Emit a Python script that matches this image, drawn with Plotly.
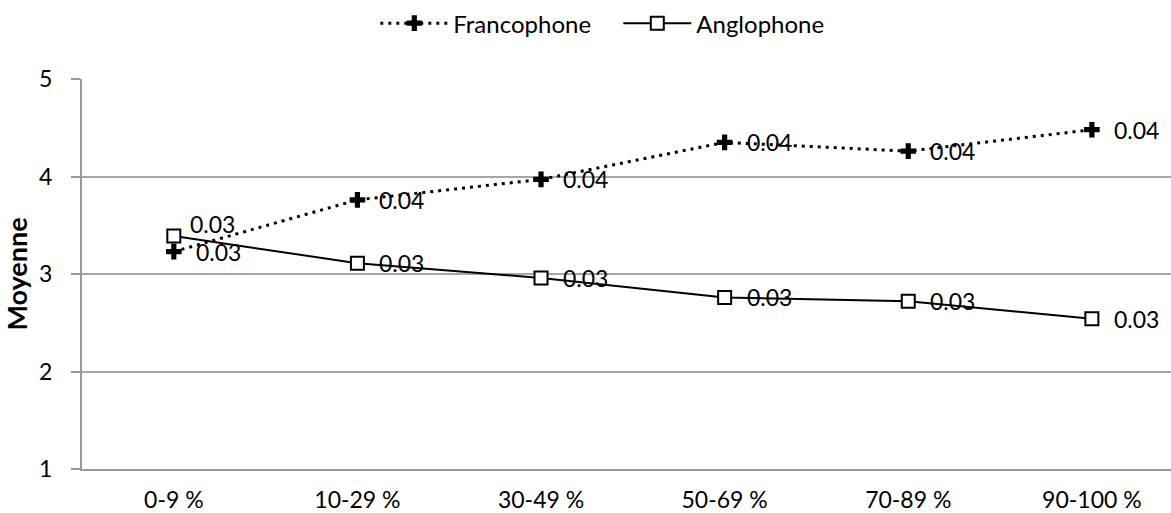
import plotly.graph_objects as go

# Tranches de pourcentage (axe des catégories)
categories = ["0-9 %", "10-29 %", "30-49 %", "50-69 %", "70-89 %", "90-100 %"]

# Moyennes par groupe linguistique
francophone = [3.23, 3.76, 3.97, 4.35, 4.26, 4.48]
anglophone = [3.39, 3.11, 2.96, 2.76, 2.72, 2.54]

# Erreurs-types affichées à côté de chaque point
francophone_se = ["0.03", "0.04", "0.04", "0.04", "0.04", "0.04"]
anglophone_se = ["0.03", "0.03", "0.03", "0.03", "0.03", "0.03"]

y_ticks = [1, 2, 3, 4, 5]

FONT = "Lato, 'Open Sans', sans-serif"
LABEL_SIZE = 23
x_pos = list(range(len(categories)))

fig = go.Figure()

fig.add_trace(go.Scatter(
    x=x_pos, y=francophone, name="Francophone",
    mode="lines+markers",
    line=dict(color="black", width=3, dash="3px,5px"),
    marker=dict(symbol="cross", size=13, color="black"),
    cliponaxis=False,
))

fig.add_trace(go.Scatter(
    x=x_pos, y=anglophone, name="Anglophone",
    mode="lines+markers",
    line=dict(color="black", width=2),
    marker=dict(symbol="square", size=13, color="white",
                line=dict(color="black", width=2)),
    cliponaxis=False,
))

# Étiquettes d'erreur-type à droite de chaque point
annotations = []
for i, (v, t) in enumerate(zip(francophone, francophone_se)):
    annotations.append(dict(x=i, y=v, text=t, showarrow=False,
                            xanchor="left", yanchor="middle", xshift=20))
for i, (v, t) in enumerate(zip(anglophone, anglophone_se)):
    if i == 0:
        annotations.append(dict(x=i, y=v, text=t, showarrow=False,
                                xanchor="left", yanchor="middle",
                                xshift=14, yshift=12))
    else:
        annotations.append(dict(x=i, y=v, text=t, showarrow=False,
                                xanchor="left", yanchor="middle", xshift=20))
for a in annotations:
    a["font"] = dict(family=FONT, size=LABEL_SIZE, color="black")

fig.update_layout(
    width=1171, height=513,
    margin=dict(l=82, r=0, t=79, b=44),
    paper_bgcolor="white", plot_bgcolor="white",
    font=dict(family=FONT, size=LABEL_SIZE, color="black"),
    showlegend=True,
    annotations=annotations,
    legend=dict(orientation="h", x=0.528, xanchor="center", xref="container",
                y=0.998, yanchor="top", yref="container",
                font=dict(size=24), itemwidth=68, entrywidth=160,
                traceorder="normal", tracegroupgap=0),
    xaxis=dict(
        range=[-0.5, 5.431],
        tickvals=x_pos, ticktext=categories,
        showgrid=False, zeroline=False,
        showline=True, linecolor="#999999", linewidth=2,
        ticks="", ticklabelstandoff=9, automargin=False,
    ),
    yaxis=dict(
        range=[1, 5], tickvals=y_ticks,
        showgrid=True, gridcolor="#a6a6a6", gridwidth=1.5,
        zeroline=False,
        showline=True, linecolor="#999999", linewidth=2,
        ticks="outside", ticklen=9, tickcolor="#999999", tickwidth=1.5,
        ticklabelstandoff=14, automargin=False,
        title=dict(text="<b>Moyenne</b>", standoff=8, font=dict(size=27)),
    ),
)

fig.write_html("out.html")
